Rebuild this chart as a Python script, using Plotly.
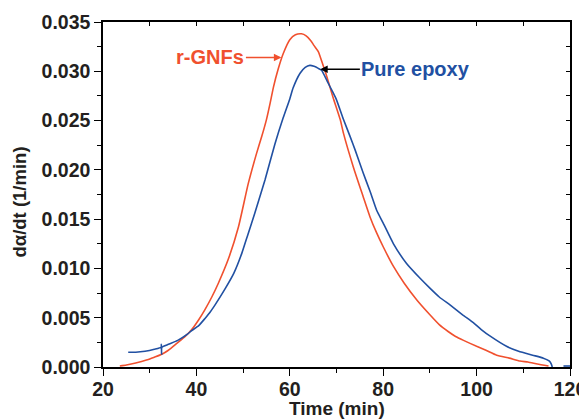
import plotly.graph_objects as go

# r-GNFs series
red_t = [23.6, 25, 27, 29.3, 31, 32.6, 34, 35.8, 37.6, 39, 40.5, 41.8, 43.3, 44.7, 46.8,
         49.0, 51.1, 52.9, 54.0, 55.0, 55.8, 56.5, 57.5, 58.6, 60.0, 61.2, 62.5, 63.5,
         64.5, 65.2, 66.1, 67.2, 67.9, 69.3, 70.8, 71.5, 73.6, 75.7, 77.2, 78.6, 80,
         82.2, 84.5, 87.2, 90, 92, 93.9, 95.5, 97.2, 100, 102, 104.3, 107, 109.3, 111,
         113, 115.4]
red_r = [0.0001, 0.0002, 0.0004, 0.0007, 0.0010, 0.0013, 0.0017, 0.0024, 0.0031, 0.0038,
         0.0048, 0.0058, 0.0071, 0.0085, 0.0109, 0.0142, 0.0186, 0.0217, 0.0234, 0.0251,
         0.0268, 0.0284, 0.0302, 0.0318, 0.0332, 0.0337, 0.0338, 0.0336, 0.0331, 0.0326,
         0.0320, 0.0305, 0.0295, 0.0273, 0.0251, 0.0237, 0.0203, 0.0173, 0.0152, 0.0136,
         0.0122, 0.0102, 0.0085, 0.0068, 0.0053, 0.0043, 0.0036, 0.0031, 0.0027, 0.0021,
         0.0017, 0.0012, 0.0009, 0.0006, 0.0005, 0.0003, 0.0001]

# Pure epoxy series
blue_t = [25.4, 27, 29, 31, 32.45, 32.5, 32.55, 32.6, 34, 36, 38, 39, 40.5, 41.8, 43, 44,
          46.1, 48, 49.7, 51, 52.5, 54.7, 56.8, 58.6, 60.0, 60.7, 62.2, 63.3, 64.3, 65.2,
          66.1, 66.8, 68, 69.3, 70.0, 71.5, 72.9, 74.0, 75.7, 77.2, 78.6, 80, 82.2, 85.0,
          87.9, 90.0, 92, 94.3, 97, 99.3, 101, 103, 106.4, 109, 112, 114.3, 115.6, 116.0,
          116.2, None, 118.6, 120]
blue_r = [0.0015, 0.0015, 0.0016, 0.0018, 0.0020, 0.0023, 0.0013, 0.0020, 0.0023, 0.0027,
          0.0033, 0.0037, 0.0042, 0.0049, 0.0056, 0.0063, 0.0079, 0.0095, 0.0115, 0.0134,
          0.0156, 0.0190, 0.0226, 0.0253, 0.0272, 0.0283, 0.0298, 0.0304, 0.0306, 0.0305,
          0.0303, 0.0301, 0.0290, 0.0278, 0.0271, 0.0251, 0.0234, 0.0220, 0.0197, 0.0178,
          0.0159, 0.0146, 0.0125, 0.0105, 0.0090, 0.0080, 0.0071, 0.0063, 0.0053, 0.0045,
          0.0038, 0.0031, 0.0021, 0.0016, 0.0012, 0.0009, 0.0006, 0.0003, 0.0000,
          None, 0.0001, 0.0001]

x_ticks = [20, 40, 60, 80, 100, 120]
y_ticks = [0.000, 0.005, 0.010, 0.015, 0.020, 0.025, 0.030, 0.035]

RED = "#F0502E"
BLUE = "#2150A2"
TXT = "#231F20"
FONT = "Liberation Sans"

fig = go.Figure()
fig.add_trace(go.Scatter(x=red_t, y=red_r, mode="lines", name="r-GNFs",
                         line=dict(color=RED, width=1.6, shape="spline", smoothing=0.5),
                         connectgaps=False))
# Pure epoxy drawn on the mirrored axes (identical ranges) so those axes are used
fig.add_trace(go.Scatter(x=blue_t, y=blue_r, mode="lines", name="Pure epoxy",
                         xaxis="x2", yaxis="y2",
                         line=dict(color=BLUE, width=1.6, shape="spline", smoothing=0.5),
                         connectgaps=False))

tickfont = dict(family=FONT, size=19.5, color=TXT)
# page body has an 8px margin, so the figure is sized/margined to compensate
fig.update_layout(
    width=579, height=412,
    margin=dict(l=95, r=17, t=14, b=53),
    paper_bgcolor="white", plot_bgcolor="white",
    showlegend=False,
    font=dict(family=FONT, color=TXT),
    xaxis=dict(range=[20, 120], tickvals=x_ticks, ticktext=["<b>%d</b>" % v for v in x_ticks],
               ticks="outside", ticklen=7, tickwidth=1.3, tickcolor="black",
               ticklabelstandoff=-3,
               showline=True, linecolor="black", linewidth=1.5, mirror=True,
               showgrid=False, zeroline=False, automargin=False,
               minor=dict(dtick=10, tick0=0, ticks="outside", ticklen=4, tickwidth=1.3,
                          tickcolor="black", showgrid=False),
               tickfont=tickfont),
    yaxis=dict(range=[0, 0.035], tickvals=y_ticks, ticktext=["<b>%.3f</b>" % v for v in y_ticks],
               ticks="outside", ticklen=7, tickwidth=1.3, tickcolor="black",
               showline=True, linecolor="black", linewidth=1.5, mirror=True,
               showgrid=False, zeroline=False, automargin=False,
               minor=dict(dtick=0.0025, tick0=0, ticks="outside", ticklen=4, tickwidth=1.3,
                          tickcolor="black", showgrid=False),
               tickfont=tickfont),
    xaxis2=dict(range=[20, 120], overlaying="x", side="top", anchor="y",
                dtick=10, tick0=0, ticks="inside", ticklen=4, tickwidth=1.3, tickcolor="black",
                showticklabels=False, showgrid=False, zeroline=False, showline=False,
                automargin=False),
    yaxis2=dict(range=[0, 0.035], overlaying="y", side="right", anchor="x",
                dtick=0.0025, tick0=0, ticks="inside", ticklen=4, tickwidth=1.3, tickcolor="black",
                showticklabels=False, showgrid=False, zeroline=False, showline=False,
                automargin=False),
)

# axis titles
fig.add_annotation(x=0.5, y=0, xref="paper", yref="paper", yanchor="middle", xanchor="center",
                   yshift=-41, showarrow=False, text="<b>Time (min)</b>",
                   font=dict(family=FONT, size=19, color=TXT))
fig.add_annotation(x=0, y=0.5, xref="paper", yref="paper", yanchor="middle", xanchor="center",
                   xshift=-84, yshift=-8, textangle=-90, showarrow=False,
                   text="<b>dα/dt (1/min)</b>",
                   font=dict(family=FONT, size=18.5, color=TXT))

# curve labels with arrows
fig.add_annotation(x=58.2, y=0.0314, ax=43.0, ay=0.0314, xref="x", yref="y",
                   axref="x", ayref="y", text="<b>r-GNFs</b>", showarrow=True,
                   arrowhead=2, arrowsize=1, arrowwidth=1.5, arrowcolor=RED,
                   font=dict(family=FONT, size=20, color=RED))
fig.add_annotation(x=66.5, y=0.0302, ax=87.0, ay=0.0302, xref="x", yref="y",
                   axref="x", ayref="y", text="<b>Pure epoxy</b>", showarrow=True,
                   arrowhead=2, arrowsize=1, arrowwidth=1.5, arrowcolor="black",
                   font=dict(family=FONT, size=20, color=BLUE))

fig.write_html("out.html")
